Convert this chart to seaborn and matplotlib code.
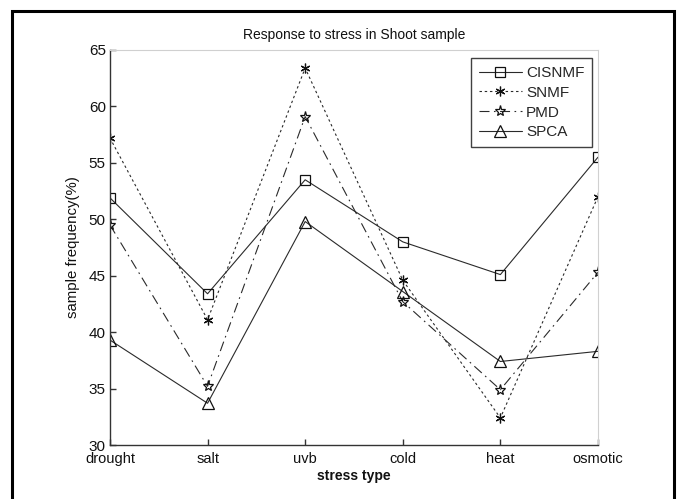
# %% Bibliotecas
import pandas as pd
import numpy as np
import matplotlib
matplotlib.use("Agg")
import matplotlib.pyplot as plt
import seaborn as sns
from matplotlib.patches import Rectangle

sns.set_theme(style="white")
plt.rcParams['font.family'] = ['Liberation Sans', 'DejaVu Sans']

# %% Dados
categories = ['drought', 'salt', 'uvb', 'cold', 'heat', 'osmotic']
cisnmf = [51.9, 43.4, 53.5, 48.0, 45.1, 55.5]
snmf = [57.2, 41.1, 63.4, 44.6, 32.4, 52.0]
pmd = [49.5, 35.2, 59.1, 42.7, 34.9, 45.3]
spca = [39.3, 33.7, 49.8, 43.6, 37.4, 38.3]
yticks = [30, 35, 40, 45, 50, 55, 60, 65]

# %% Estilo de cada série
series = [
    ('CISNMF', cisnmf, 's', '-', 7),
    ('SNMF', snmf, (6, 2, 0), (0, (2.2, 2.5)), 7),
    ('PMD', pmd, '*', (0, (9, 4, 1.5, 4)), 8),
    ('SPCA', spca, '^', '-', 8),
]

fig = plt.figure(figsize=(6.83, 4.99), dpi=100)
ax = fig.add_axes([0.161, 0.1082, 0.7145, 0.7916])

for name, vals, mk, ls, ms in series:
    sns.lineplot(x=categories, y=vals, ax=ax, sort=False, color='#2a2a2a',
                 linewidth=0.8, linestyle=ls, marker=mk, markersize=ms,
                 mfc='none', mec='#111111', mew=0.9, label=name)

ax.set_xlim(0, 5)
ax.set_ylim(30, 65)
ax.set_yticks(yticks)
ax.set_yticklabels([str(v) for v in yticks], fontsize=11)
for lab in ax.get_xticklabels():
    lab.set_fontsize(10.5)

ax.tick_params(direction='in', length=4, width=1, color='#333333',
               top=False, right=False, left=True, bottom=True)
ax.tick_params(axis='x', pad=5, labelcolor='#111111')
ax.tick_params(axis='y', pad=3, labelcolor='#111111')

for s in ['left', 'bottom']:
    ax.spines[s].set_color('#333333')
    ax.spines[s].set_linewidth(1.0)
for s in ['top', 'right']:
    ax.spines[s].set_color('#d0d0d0')
    ax.spines[s].set_linewidth(0.8)

ax.set_title('Response to stress in Shoot sample', fontsize=10, pad=8, color='#111111')
ax.set_xlabel('stress type', fontsize=10, fontweight='bold', labelpad=2, color='#111111')
ax.set_ylabel('sample frequency(%)', fontsize=10.8, labelpad=6, color='#111111')

leg = ax.legend(loc='upper right', bbox_to_anchor=(0.988, 0.979), borderaxespad=0,
                fancybox=False, frameon=True, handlelength=2.8, handletextpad=0.3,
                borderpad=0.5, labelspacing=0.38,
                prop={'size': 11})
leg.get_frame().set_edgecolor('#111111')
leg.get_frame().set_linewidth(1.0)

# moldura externa
fig.patches.append(Rectangle((11.5 / 683, -0.1), (673.5 - 11.5) / 683, 1.1 - 10.5 / 499,
                             transform=fig.transFigure, fill=False, edgecolor='black',
                             linewidth=2.2, clip_on=False))

fig.savefig('out.png', dpi=100)
